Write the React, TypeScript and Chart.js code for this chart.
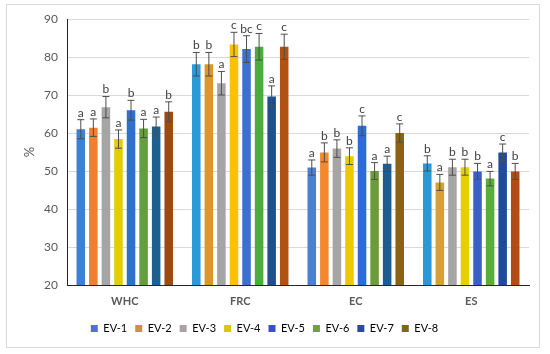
import React, { useEffect, useRef } from "react";
import { Chart, registerables } from "chart.js";

Chart.register(...registerables);

const categories = ["WHC", "FRC", "EC", "ES"];
const seriesNames = ["EV-1", "EV-2", "EV-3", "EV-4", "EV-5", "EV-6", "EV-7", "EV-8"];

// values per category, in series order EV-1..EV-8
const whcValues = [61.0, 61.4, 66.8, 58.4, 66.0, 61.2, 61.7, 65.6];
const frcValues = [78.1, 78.1, 73.1, 83.3, 82.1, 82.7, 69.6, 82.7];
const ecValues = [50.9, 54.9, 55.9, 53.9, 61.9, 50.0, 51.9, 60.0];
const esValues = [52.0, 47.0, 51.0, 51.0, 49.9, 48.0, 54.9, 49.9];

const whcErrors = [2.5, 2.3, 2.8, 2.4, 2.6, 2.4, 2.5, 2.6];
const frcErrors = [3.1, 3.1, 3.1, 3.2, 3.5, 3.5, 2.8, 3.3];
const ecErrors = [2.0, 2.5, 2.3, 2.2, 2.6, 2.2, 2.0, 2.4];
const esErrors = [2.0, 2.1, 2.1, 2.1, 2.1, 1.9, 2.2, 2.1];

const whcLetters = ["a", "a", "b", "a", "b", "a", "a", "b"];
const frcLetters = ["b", "b", "a", "c", "bc", "c", "a", "c"];
const ecLetters = ["a", "b", "b", "b", "c", "a", "a", "c"];
const esLetters = ["b", "a", "b", "b", "b", "a", "c", "b"];

const yTicks = [20, 30, 40, 50, 60, 70, 80, 90];

// bar colours per series, in category order WHC, FRC, EC, ES
const barColors = [
  ["#3f7fd4", "#2b9ad9", "#4a80d2", "#2a97d9"],
  ["#ef7f32", "#d9982c", "#f3882f", "#d6a032"],
  ["#a5a5a5", "#a5a5a5", "#a5a5a5", "#a5a5a5"],
  ["#e3cc00", "#fcc200", "#ebca05", "#e6d000"],
  ["#2e6fd0", "#3b70d2", "#2d6cd2", "#3a60c8"],
  ["#639f3e", "#49ad3b", "#6a9c3a", "#5aad3c"],
  ["#1d6090", "#1f4f8f", "#1d5c92", "#214b9a"],
  ["#9c4a12", "#b25212", "#8b6112", "#b34c12"],
];
const legendColors = ["#5470d0", "#d09040", "#aaa0a5", "#d8c800", "#3a4fc0", "#70a040", "#2a4aa0", "#7a6a10"];

const valuesByCat = [whcValues, frcValues, ecValues, esValues];
const errorsByCat = [whcErrors, frcErrors, ecErrors, esErrors];
const lettersByCat = [whcLetters, frcLetters, ecLetters, esLetters];

const FONT = "Lato";

const errorPlugin = {
  id: "errorLetters",
  afterDatasetsDraw(chart: any) {
    const ctx = chart.ctx;
    const yScale = chart.scales.y;
    ctx.save();
    chart.data.datasets.forEach((ds: any, si: number) => {
      const meta = chart.getDatasetMeta(si);
      meta.data.forEach((bar: any, ci: number) => {
        const v = valuesByCat[ci][si];
        const e = errorsByCat[ci][si];
        const x = bar.x;
        const yHi = yScale.getPixelForValue(v + e);
        const yLo = yScale.getPixelForValue(v - e);
        ctx.strokeStyle = "#4d4d4d";
        ctx.lineWidth = 1;
        ctx.beginPath();
        ctx.moveTo(x, yHi);
        ctx.lineTo(x, yLo);
        ctx.moveTo(x - 3.5, yHi);
        ctx.lineTo(x + 3.5, yHi);
        ctx.moveTo(x - 3.5, yLo);
        ctx.lineTo(x + 3.5, yLo);
        ctx.stroke();
        ctx.fillStyle = "#404040";
        ctx.font = `12px ${FONT}`;
        ctx.textAlign = "center";
        ctx.textBaseline = "bottom";
        ctx.fillText(lettersByCat[ci][si], x, yHi - 1);
      });
    });
    ctx.restore();
  },
};

export default function App() {
  const canvasRef = useRef<HTMLCanvasElement | null>(null);

  useEffect(() => {
    if (!canvasRef.current) return;
    const datasets = seriesNames.map((name, si) => ({
      label: name,
      data: categories.map((_, ci) => valuesByCat[ci][si]),
      backgroundColor: barColors[si],
      borderWidth: 0,
      categoryPercentage: 0.87,
      barPercentage: 0.68,
    }));
    const chart = new Chart(canvasRef.current, {
      type: "bar",
      data: { labels: categories, datasets },
      options: {
        animation: false,
        responsive: false,
        maintainAspectRatio: false,
        layout: { padding: { left: 0, right: 21, top: 19, bottom: 10 } },
        plugins: {
          tooltip: { enabled: false },
          legend: {
            position: "bottom",
            labels: {
              boxWidth: 7,
              boxHeight: 7,
              padding: 8,
              color: "#595959",
              font: { family: FONT, size: 11 },
              generateLabels: () =>
                seriesNames.map((name, i) => ({
                  text: name,
                  fillStyle: legendColors[i],
                  strokeStyle: legendColors[i],
                  lineWidth: 0,
                  hidden: false,
                  datasetIndex: i,
                })),
            },
          },
        },
        scales: {
          x: {
            grid: { display: false, drawTicks: false },
            border: { display: true, color: "#262626", width: 1 },
            ticks: {
              color: "#595959",
              padding: 10,
              font: { family: FONT, size: 11, weight: "bold" },
            },
            afterFit: (s: any) => {
              s.height = 30;
            },
          },
          y: {
            min: 20,
            max: 90,
            afterBuildTicks: (s: any) => {
              s.ticks = yTicks.map((v) => ({ value: v }));
            },
            grid: { color: "#d9d9d9", drawTicks: false },
            border: { display: true, color: "#262626", width: 1 },
            ticks: {
              color: "#595959",
              padding: 9,
              font: { family: FONT, size: 12 },
            },
            title: {
              display: true,
              text: "%",
              color: "#595959",
              font: { family: FONT, size: 13 },
              padding: { top: 22, bottom: 0 },
            },
            afterFit: (s: any) => {
              s.width = 67;
            },
          },
        },
      },
      plugins: [errorPlugin],
    });
    return () => chart.destroy();
  }, []);

  return (
    <div style={{ position: "absolute", left: 0, top: 0, width: 550, height: 354, background: "#fff" }}>
      <canvas ref={canvasRef} width={550} height={354} style={{ position: "absolute", left: 0, top: 0 }} />
      <div
        style={{
          position: "absolute",
          left: 6,
          top: 4,
          width: 534,
          height: 344,
          border: "1px solid #d9d9d9",
          boxSizing: "border-box",
          pointerEvents: "none",
        }}
      />
    </div>
  );
}
